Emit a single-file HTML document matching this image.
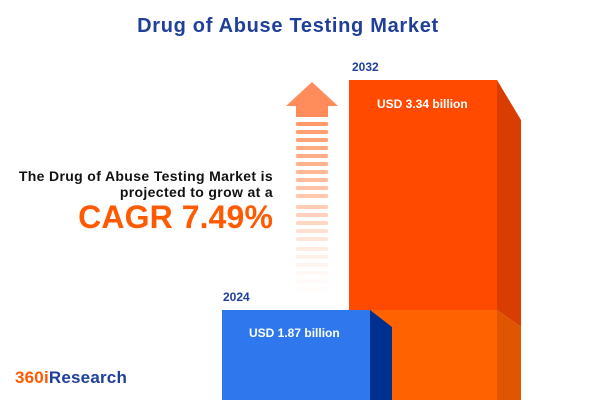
<!DOCTYPE html>
<html><head><style>
body{margin:0;width:600px;height:400px;overflow:hidden;background:#fff;font-family:"Liberation Sans",sans-serif;position:relative}
.a{position:absolute;white-space:nowrap}
</style></head><body>
<div class="a" style="left:-12px;width:600px;top:15px;text-align:center;font-size:20px;letter-spacing:0.7px;font-weight:bold;color:#1f3f99">Drug of Abuse Testing Market</div>
<svg class="a" style="left:0;top:0" width="600" height="400">
<rect x="349" y="80" width="148" height="230" fill="#ff4a00"/>
<polygon points="497,80 521,120 521,327 497,310" fill="#d93d00"/>
<rect x="349" y="310" width="148" height="90" fill="#ff6200"/>
<polygon points="497,310 521,327 521,400 497,400" fill="#e05500"/>
<rect x="222" y="310" width="148" height="90" fill="#2f77ed"/>
<polygon points="370,310 392,327 392,400 370,400" fill="#00308f"/>
<polygon points="312,82 338,106 328,106 328,117 296,117 296,106 286,106" fill="#ff8c5a"/>
<g fill="#ff9a6a">
<rect x="296" y="122" width="32" height="4" rx="1.5" opacity="1"/>
<rect x="296" y="130" width="32" height="4" rx="1.5" opacity=".95"/>
<rect x="296" y="138" width="32" height="4" rx="1.5" opacity=".9"/>
<rect x="296" y="146" width="32" height="4" rx="1.5" opacity=".85"/>
<rect x="296" y="154" width="32" height="4" rx="1.5" opacity=".8"/>
<rect x="296" y="162" width="32" height="4" rx="1.5" opacity=".75"/>
<rect x="296" y="170" width="32" height="4" rx="1.5" opacity=".7"/>
<rect x="296" y="178" width="32" height="4" rx="1.5" opacity=".65"/>
<rect x="296" y="186" width="32" height="4" rx="1.5" opacity=".6"/>
<rect x="296" y="194" width="32" height="4" rx="1.5" opacity=".55"/>
<rect x="296" y="205" width="32" height="4" rx="1.5" opacity=".5"/>
<rect x="296" y="213" width="32" height="4" rx="1.5" opacity=".45"/>
<rect x="296" y="221" width="32" height="4" rx="1.5" opacity=".4"/>
<rect x="296" y="229" width="32" height="4" rx="1.5" opacity=".32"/>
<rect x="296" y="237" width="32" height="4" rx="1.5" opacity=".26"/>
<rect x="296" y="247" width="32" height="4" rx="1.5" opacity=".2"/>
<rect x="296" y="255" width="32" height="4" rx="1.5" opacity=".15"/>
<rect x="296" y="263" width="32" height="4" rx="1.5" opacity=".1"/>
<rect x="296" y="271" width="32" height="4" rx="1.5" opacity=".07"/>
<rect x="296" y="279" width="32" height="4" rx="1.5" opacity=".05"/>
<rect x="296" y="287" width="32" height="4" rx="1.5" opacity=".03"/>
</g>
</svg>
<div class="a" style="left:352px;top:60px;font-size:12px;font-weight:bold;color:#1f3f99">2032</div>
<div class="a" style="left:377px;top:97px;font-size:12px;font-weight:bold;color:#fff">USD 3.34 billion</div>
<div class="a" style="left:223px;top:290px;font-size:12px;font-weight:bold;color:#1f3f99">2024</div>
<div class="a" style="left:249px;top:326px;font-size:12px;font-weight:bold;color:#fff">USD 1.87 billion</div>
<div class="a" style="right:327px;top:168px;text-align:right;font-size:14px;letter-spacing:0.35px;font-weight:bold;color:#111;line-height:16px">The Drug of Abuse Testing Market is<br>projected to grow at a</div>
<div class="a" style="right:327px;top:199px;font-size:32px;letter-spacing:0.1px;font-weight:bold;color:#ff5a00">CAGR 7.49%</div>
<div class="a" style="left:15px;top:368px;font-size:17px;letter-spacing:0.2px;font-weight:bold"><span style="color:#ff5a00">360i</span><span style="color:#1f3f99">Research</span></div>
</body></html>
